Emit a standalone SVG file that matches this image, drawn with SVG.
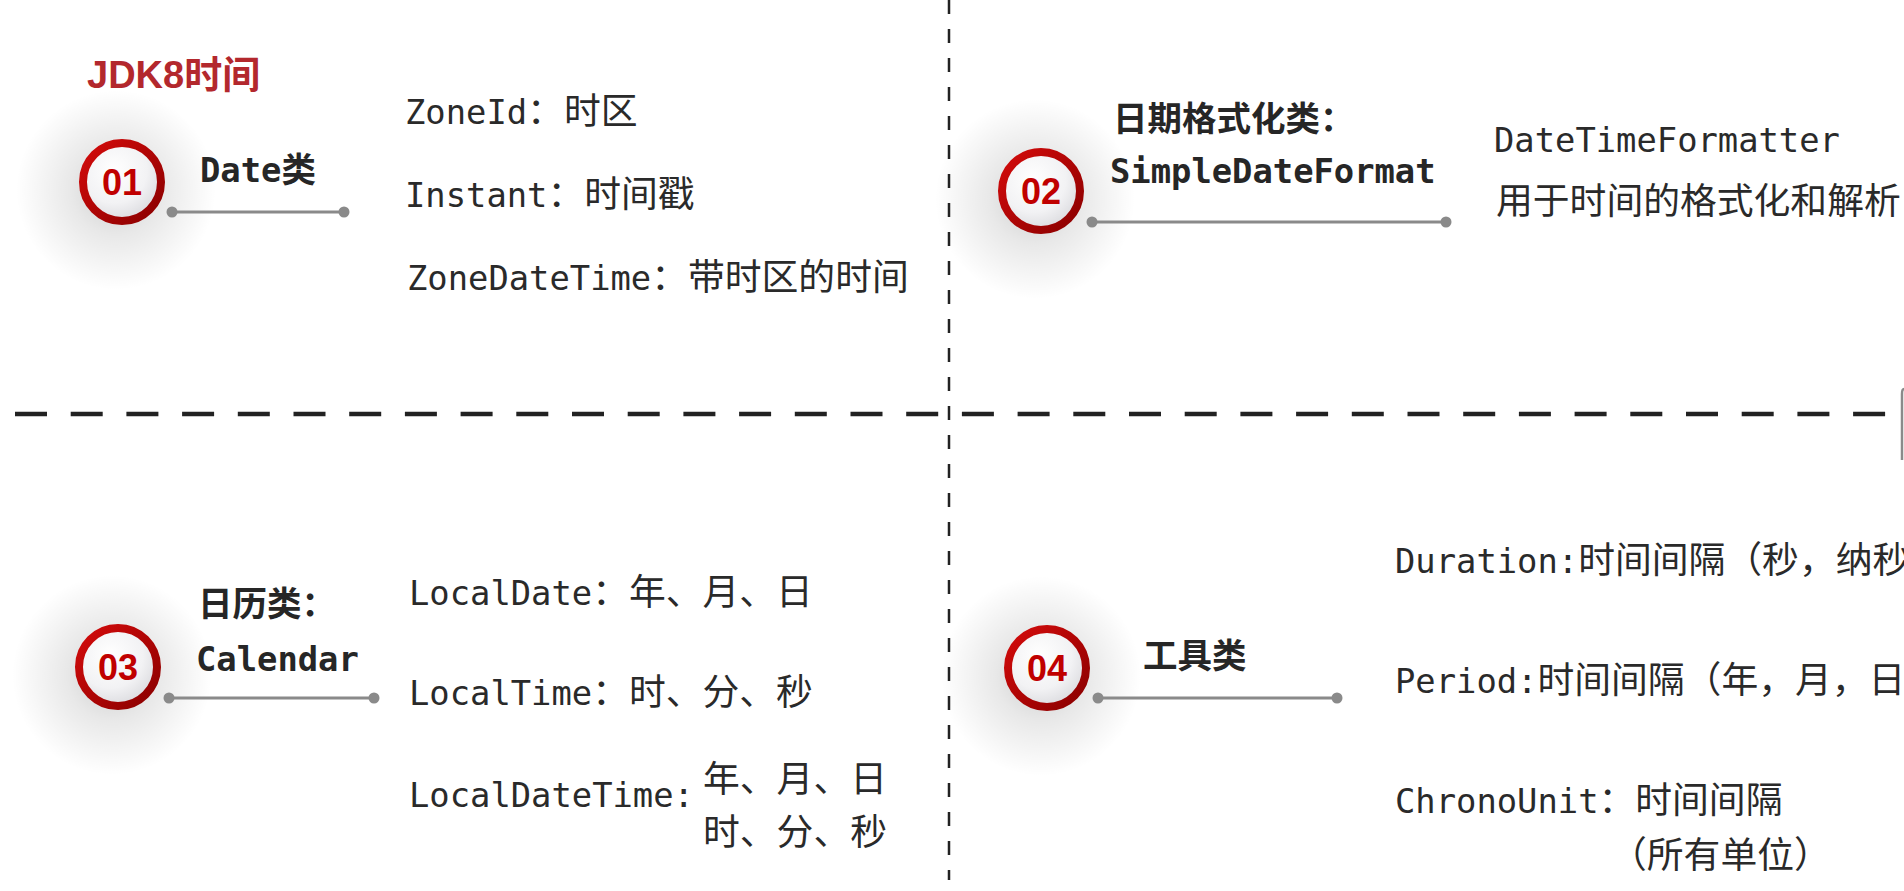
<svg xmlns="http://www.w3.org/2000/svg" width="1904" height="891" viewBox="0 0 1904 891">
<defs>
  <radialGradient id="halo" cx="0.5" cy="0.5" r="0.5">
    <stop offset="0" stop-color="#000" stop-opacity="0.20"/>
    <stop offset="0.45" stop-color="#000" stop-opacity="0.09"/>
    <stop offset="1" stop-color="#000" stop-opacity="0"/>
  </radialGradient>
  <radialGradient id="face" cx="0.4" cy="0.35" r="0.7">
    <stop offset="0" stop-color="#ffffff"/>
    <stop offset="0.6" stop-color="#f2f2f4"/>
    <stop offset="1" stop-color="#d8d8dc"/>
  </radialGradient>
  <linearGradient id="ring" x1="0" y1="0" x2="1" y2="1">
    <stop offset="0" stop-color="#d40b0b"/>
    <stop offset="1" stop-color="#8a0000"/>
  </linearGradient>
  <style>
    .title { font-family: "Liberation Sans", "Noto Sans CJK SC", sans-serif; font-size: 38px; font-weight: bold; fill: #b3282d; }
    .num { font-family: "Liberation Sans", sans-serif; font-size: 36px; font-weight: bold; fill: #c00000; text-anchor: middle; }
    .lbl { font-family: "DejaVu Sans Mono", "Noto Sans CJK SC", monospace; font-size: 33.8px; font-weight: bold; fill: #262626; }
    .lbl .cj { font-family: "Noto Sans CJK SC", sans-serif; font-size: 34.5px; font-weight: bold; }
    .txt { font-family: "DejaVu Sans Mono", "Noto Sans CJK SC", monospace; font-size: 33.8px; fill: #2a2a2a; }
    .cj { font-family: "Noto Sans CJK SC", sans-serif; font-size: 36.8px; }
    .ring { fill: url(#face); stroke: url(#ring); stroke-width: 8; }
    .halo { fill: url(#halo); }
    .conn line { stroke: #8a8a8a; stroke-width: 3; }
    .conn circle { fill: #8a8a8a; }
    .sep { stroke: #222; fill: none; }
  </style>
</defs>
<rect width="1904" height="891" fill="#ffffff"/>

<g id="separators">
  <line class="sep" x1="949" y1="0" x2="949" y2="880" stroke-width="2.5" stroke-dasharray="14 15"/>
  <line class="sep" x1="15" y1="414" x2="1886" y2="414" stroke-width="4.5" stroke-dasharray="32 23.7"/>
  <path d="M1904,389 Q1902,389 1902,394 L1902,460" stroke="#8a8a8a" stroke-width="2.5" fill="none"/>
</g>

<text id="title" class="title" x="87" y="88">JDK8时间</text>

<g id="node-01">
  <circle class="halo" cx="116" cy="190" r="100"/>
  <circle class="ring" cx="122" cy="182" r="39"/>
  <text class="num" x="122" y="195">01</text>
  <text class="lbl" x="200" y="182">Date<tspan class="cj">类</tspan></text>
  <text class="txt" x="405" y="124">ZoneId<tspan class="cj">：时区</tspan></text>
  <text class="txt" x="405" y="207">Instant<tspan class="cj">：时间戳</tspan></text>
  <text class="txt" x="407" y="290">ZoneDateTime<tspan class="cj">：带时区的时间</tspan></text>
</g>

<g id="node-02">
  <circle class="halo" cx="1035" cy="199" r="100"/>
  <circle class="ring" cx="1041" cy="191" r="39"/>
  <text class="num" x="1041" y="204">02</text>
  <text class="lbl" x="1113" y="131"><tspan class="cj">日期格式化类：</tspan></text>
  <text class="lbl" x="1110" y="183">SimpleDateFormat</text>
  <text class="txt" x="1494" y="152">DateTimeFormatter</text>
  <text class="txt" x="1496" y="214"><tspan class="cj">用于时间的格式化和解析</tspan></text>
</g>

<g id="node-03">
  <circle class="halo" cx="112" cy="675" r="100"/>
  <circle class="ring" cx="118" cy="667" r="39"/>
  <text class="num" x="118" y="680">03</text>
  <text class="lbl" x="198" y="616"><tspan class="cj">日历类：</tspan></text>
  <text class="lbl" x="196" y="671">Calendar</text>
  <text class="txt" x="409" y="605">LocalDate<tspan class="cj">：年、月、日</tspan></text>
  <text class="txt" x="409" y="705">LocalTime<tspan class="cj">：时、分、秒</tspan></text>
  <text class="txt" x="409" y="807">LocalDateTime:</text>
  <text class="txt" x="703" y="792"><tspan class="cj">年、月、日</tspan></text>
  <text class="txt" x="703" y="845"><tspan class="cj">时、分、秒</tspan></text>
</g>

<g id="node-04">
  <circle class="halo" cx="1041" cy="676" r="100"/>
  <circle class="ring" cx="1047" cy="668" r="39"/>
  <text class="num" x="1047" y="681">04</text>
  <text class="lbl" x="1143" y="668"><tspan class="cj">工具类</tspan></text>
  <text class="txt" x="1395" y="573">Duration:<tspan class="cj">时间间隔（秒，纳秒</tspan></text>
  <text class="txt" x="1395" y="693">Period:<tspan class="cj">时间间隔（年，月，日</tspan></text>
  <text class="txt" x="1395" y="813">ChronoUnit<tspan class="cj">：时间间隔</tspan></text>
  <text class="txt" x="1610" y="868"><tspan class="cj">（所有单位）</tspan></text>
</g>

<g id="connectors" class="conn">
  <line x1="172" y1="212" x2="344" y2="212"/>
  <circle cx="172" cy="212" r="5.5"/>
  <circle cx="344" cy="212" r="5.5"/>
  <line x1="1092" y1="222" x2="1446" y2="222"/>
  <circle cx="1092" cy="222" r="5.5"/>
  <circle cx="1446" cy="222" r="5.5"/>
  <line x1="169" y1="698" x2="374" y2="698"/>
  <circle cx="169" cy="698" r="5.5"/>
  <circle cx="374" cy="698" r="5.5"/>
  <line x1="1098" y1="698" x2="1337" y2="698"/>
  <circle cx="1098" cy="698" r="5.5"/>
  <circle cx="1337" cy="698" r="5.5"/>
</g>
</svg>
